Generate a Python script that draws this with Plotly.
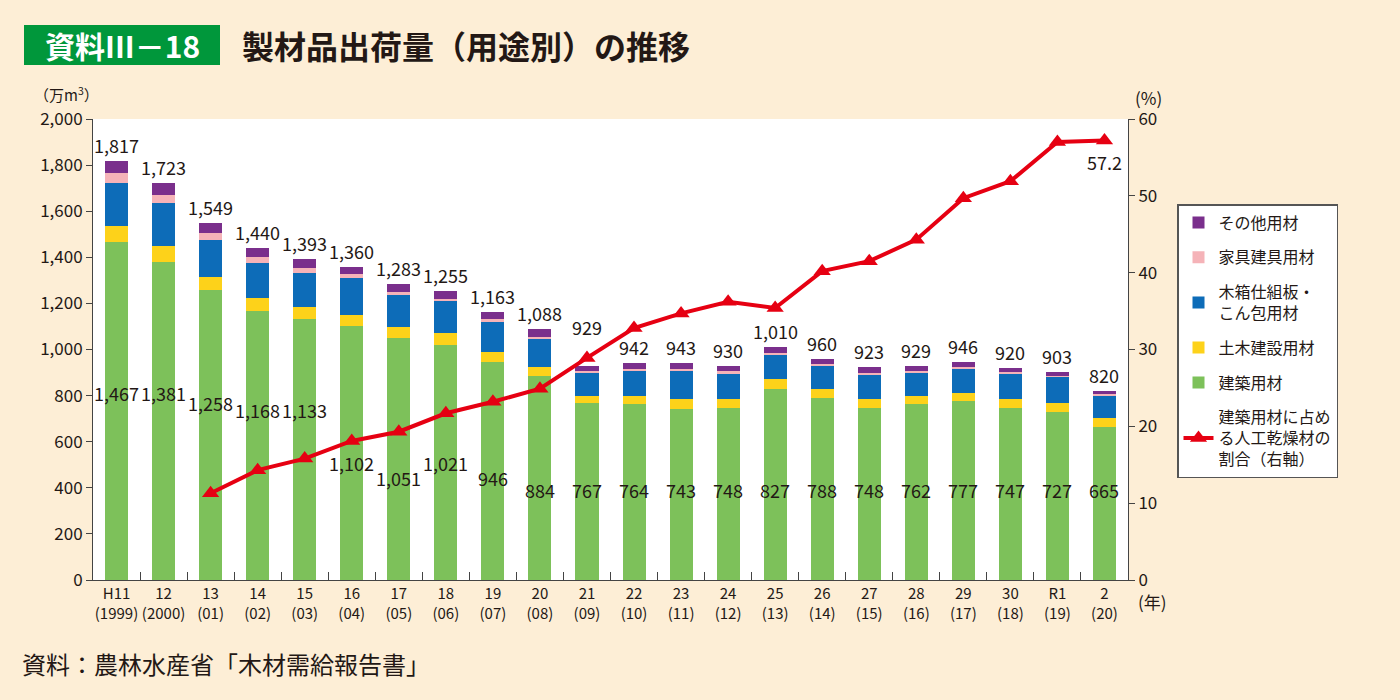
import plotly.graph_objects as go

years = ["H11<br>(1999)", "12<br>(2000)", "13<br>(01)", "14<br>(02)", "15<br>(03)", "16<br>(04)",
         "17<br>(05)", "18<br>(06)", "19<br>(07)", "20<br>(08)", "21<br>(09)", "22<br>(10)",
         "23<br>(11)", "24<br>(12)", "25<br>(13)", "26<br>(14)", "27<br>(15)", "28<br>(16)",
         "29<br>(17)", "30<br>(18)", "R1<br>(19)", "2<br>(20)"]

kenchiku = [1467, 1381, 1258, 1168, 1133, 1102, 1051, 1021, 946, 884, 767, 764, 743, 748, 827, 788, 748, 762, 777, 747, 727, 665]
doboku = [70, 67, 58, 55, 50, 49, 45, 49, 44, 39, 33, 36, 42, 39, 45, 39, 39, 35, 34, 37, 42, 38]
konpo = [186, 186, 159, 153, 149, 158, 139, 139, 131, 122, 99, 108, 122, 111, 108, 103, 104, 102, 107, 111, 112, 97]
kagu = [43, 37, 30, 27, 21, 18, 16, 11, 10, 10, 6, 6, 7, 7, 6, 7, 7, 6, 6, 6, 5, 6]
sonota = [51, 52, 44, 37, 40, 33, 32, 35, 32, 33, 24, 28, 29, 25, 24, 23, 25, 24, 22, 19, 17, 14]
totals = [1817, 1723, 1549, 1440, 1393, 1360, 1283, 1255, 1163, 1088, 929, 942, 943, 930, 1010, 960, 923, 929, 946, 920, 903, 820]
kanso_ratio = [None, None, 11.3, 14.3, 15.8, 18.1, 19.3, 21.7, 23.2, 24.9, 28.9, 32.8, 34.7, 36.2, 35.4,
               40.2, 41.5, 44.3, 49.7, 51.9, 57.0, 57.2]

FONT = "Noto Sans CJK JP"
TXT = "#231815"

fig = go.Figure()
series = [
    ("建築用材", kenchiku, "#7dc15a", 5),
    ("土木建設用材", doboku, "#fdd21a", 4),
    ("木箱仕組板・<br>こん包用材", konpo, "#0d6cb8", 3),
    ("家具建具用材", kagu, "#f5b3b8", 2),
    ("その他用材", sonota, "#7a2f8c", 1),
]
for name, vals, col, rank in series:
    fig.add_trace(go.Bar(x=years, y=vals, name=name, marker=dict(color=col, line=dict(width=0)),
                         legendrank=rank, legendgroup=name))

fig.add_trace(go.Scatter(x=years, y=kanso_ratio, yaxis="y2", mode="lines+markers",
                         name="建築用材に占め<br>る人工乾燥材の<br>割合（右軸）",
                         line=dict(color="#e60012", width=4),
                         marker=dict(symbol="triangle-up", size=15, color="#e60012"),
                         legendrank=6, legendgroup="line"))

# total labels (the 21 label is lifted clear of the line)
for i, (x, t) in enumerate(zip(years, totals)):
    fig.add_annotation(x=x, y=t, text=f"{t:,}", showarrow=False, yanchor="bottom",
                       yshift=24 if i == 10 else 1,
                       font=dict(size=18, color=TXT, family=FONT))

# green labels (placed to avoid the line)
label_pix = [393, 393, 403, 410, 410, 463, 478, 463, 478] + [490] * 13
for x, v, p in zip(years, kenchiku, label_pix):
    fig.add_annotation(x=x, y=(580 - p) / 461 * 2000, text=f"{v:,}", showarrow=False,
                       yanchor="middle", font=dict(size=18, color=TXT, family=FONT))

fig.add_annotation(x=years[-1], y=kanso_ratio[-1], yref="y2", text="57.2", showarrow=False,
                   yanchor="top", yshift=-6, font=dict(size=18, color=TXT, family=FONT))

def px(xp):
    return (xp - 93) / 1035

def py(yp):
    return (580 - yp) / 461

# title
fig.add_shape(type="rect", xref="paper", yref="paper",
              x0=px(24), x1=px(220), y0=py(65), y1=py(25),
              fillcolor="#00973b", line=dict(width=0))
fig.add_annotation(xref="paper", yref="paper", x=px(122), y=py(45),
                   text="<b>資料III－18</b>", showarrow=False, xanchor="center", yanchor="middle",
                   font=dict(size=30, color="white", family=FONT))
fig.add_annotation(xref="paper", yref="paper", x=px(240), y=py(45),
                   text="<b>製材品出荷量（用途別）の推移</b>", showarrow=False, xanchor="left", yanchor="middle",
                   font=dict(size=32, color=TXT, family=FONT))

# unit labels
fig.add_annotation(xref="paper", yref="paper", x=px(66), y=py(94),
                   text="（万m<sup>3</sup>）", showarrow=False, xanchor="center", yanchor="middle",
                   font=dict(size=15, color=TXT, family=FONT))
fig.add_annotation(xref="paper", yref="paper", x=px(1148), y=py(98),
                   text="(%)", showarrow=False, xanchor="center", yanchor="middle",
                   font=dict(size=17, color=TXT, family=FONT))
fig.add_annotation(xref="paper", yref="paper", x=px(1152), y=py(601),
                   text="(年)", showarrow=False, xanchor="center", yanchor="middle",
                   font=dict(size=17, color=TXT, family=FONT))
fig.add_annotation(xref="paper", yref="paper", x=px(20), y=py(663),
                   text="資料：農林水産省「木材需給報告書」", showarrow=False, xanchor="left", yanchor="middle",
                   font=dict(size=24, color=TXT, family=FONT))

fig.update_layout(
    width=1400, height=700,
    margin=dict(l=93, r=272, t=119, b=120, autoexpand=False),
    paper_bgcolor="#fdeed6", plot_bgcolor="white",
    barmode="stack", bargap=0.51,
    font=dict(family=FONT, color=TXT, size=16),
    showlegend=True,
    legend=dict(x=px(1177), y=py(204), xanchor="left", yanchor="top",
                bgcolor="white", bordercolor="#555", borderwidth=1.5,
                font=dict(size=16, family=FONT, color=TXT), tracegroupgap=11,
                itemwidth=30, traceorder="grouped"),
    xaxis=dict(type="category", range=[-0.5, len(years) - 0.5], showline=True, linecolor="#444", linewidth=1,
               ticks="inside", ticklen=8, tickcolor="#444", tickson="boundaries", tickangle=0,
               tickfont=dict(size=15, family=FONT, color=TXT), showgrid=False),
    yaxis=dict(range=[0, 2000], dtick=200, tickformat=",", showline=True, linecolor="#444", linewidth=1,
               ticks="outside", ticklen=6, tickcolor="#444", showgrid=False,
               tickfont=dict(size=17, family=FONT, color=TXT), zeroline=False),
    yaxis2=dict(range=[0, 60], dtick=10, overlaying="y", side="right", showline=True, linecolor="#444",
                linewidth=1, ticks="outside", ticklen=6, tickcolor="#444", showgrid=False,
                tickfont=dict(size=17, family=FONT, color=TXT), zeroline=False),
)

fig.write_html("out.html", config={"displayModeBar": False},
               post_script="document.body.style.margin='0';document.body.style.background='#fdeed6';")
